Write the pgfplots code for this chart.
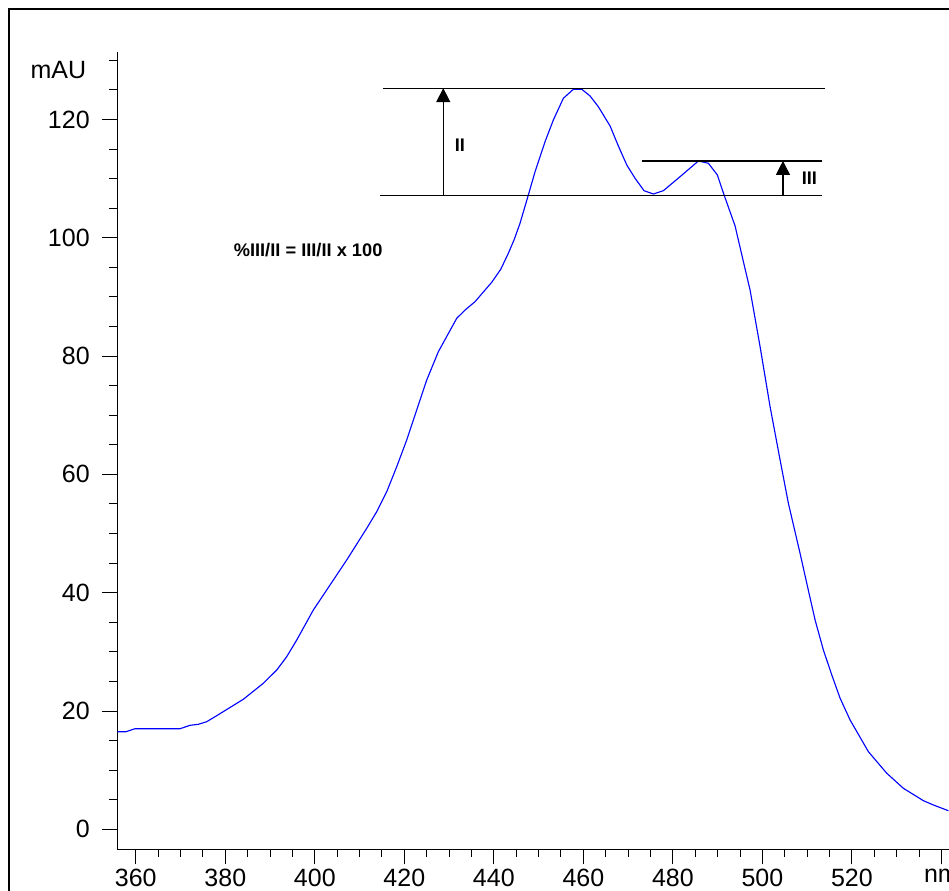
\documentclass[border=0pt]{standalone}
\usepackage{pgfplots}
\pgfplotsset{compat=1.18}
\usepackage{fontspec}
\setmainfont{Liberation Sans}
\usetikzlibrary{arrows.meta}
\begin{document}
\begin{tikzpicture}
\begin{axis}[
  at={(0pt,0pt)}, anchor=south west,
  scale only axis, width=332.8pt, height=318.9pt,
  xmin=355.8, xmax=541.7, ymin=-3.38, ymax=131.4,
  axis lines*=left,
  axis line style={line width=0.4pt, black},
  tick align=outside,
  major tick length=6pt, minor tick length=3pt,
  xtick={360,380,...,540},
  xticklabels={360,380,400,420,440,460,480,500,520,nm},
  minor xtick={360,365,...,540},
  ytick={0,20,...,120},
  minor ytick={0,5,...,130},
  tick style={black, line width=0.4pt},
  ticklabel style={font=\fontsize{10}{12}\selectfont},
  xticklabel style={yshift=1.8pt},
  yticklabel style={xshift=-1.4pt},
  /pgf/number format/assume math mode=true,
  clip=false,
]
\addplot[blue, line width=0.45pt] coordinates {
(355.87,16.50) (357.81,16.50) (359.82,17.01) (369.88,17.01) (372.11,17.58)
(373.97,17.75) (375.84,18.19) (378.08,19.21) (384.02,21.98) (388.49,24.68)
(391.49,26.93) (393.72,29.18) (395.96,32.00) (399.67,37.08) (403.40,41.30)
(407.13,45.53) (411.60,50.89) (413.83,53.69) (416.07,57.08) (418.30,61.30)
(420.54,65.82) (422.39,70.04) (423.51,72.58) (425.01,75.96) (427.60,80.74)
(431.71,86.39) (433.57,87.79) (435.80,89.20) (439.53,92.48) (441.54,94.67)
(443.24,97.38) (444.51,99.63) (445.85,102.45) (447.71,107.24) (449.21,111.17)
(451.44,116.25) (453.30,119.92) (455.53,123.58) (457.77,125.11) (459.64,125.11)
(461.50,123.97) (463.35,122.16) (465.97,118.90) (467.82,115.52) (469.70,112.31)
(471.55,110.06) (473.56,107.96) (475.64,107.40) (477.88,107.96) (481.61,110.33)
(485.70,112.98) (487.93,112.60) (489.94,110.62) (491.44,107.24) (493.90,102.00)
(495.76,95.96) (497.25,91.17) (499.49,81.59) (501.72,71.45) (503.96,62.43)
(505.81,55.11) (508.42,46.66) (509.92,41.59) (511.78,35.38) (513.63,30.31)
(515.51,26.09) (517.37,22.15) (519.60,18.48) (523.69,13.12) (527.80,9.47)
(531.51,6.93) (535.98,4.84) (538.22,4.11) (541.57,3.14)
};
\draw[line width=0.5pt] (axis cs:415.3,125.3) -- (axis cs:514.0,125.3);
\draw[line width=0.5pt] (axis cs:414.6,107.1) -- (axis cs:513.3,107.1);
\draw[line width=0.5pt] (axis cs:473.2,113.0) -- (axis cs:513.3,113.0);
\draw[line width=0.5pt,-{Triangle[width=5.6pt,length=5.6pt]}] (axis cs:428.7,107.1) -- (axis cs:428.7,125.3);
\draw[line width=0.5pt,-{Triangle[width=5.6pt,length=5.6pt]}] (axis cs:504.6,107.1) -- (axis cs:504.6,113.0);
\node[font=\bfseries\fontsize{7.3}{8}\selectfont] at (axis cs:432.4,115.7) {II};
\node[font=\bfseries\fontsize{7.3}{8}\selectfont] at (axis cs:510.5,110.06) {III};
\node[font=\bfseries\fontsize{7.3}{8}\selectfont] at (axis cs:398.5,97.9) {\%III/II = III/II x 100};
\node[font=\fontsize{10}{12}\selectfont] at (axis cs:342.7,128.4) {mAU};
\end{axis}
\draw[line width=0.5pt] (-43.2pt,-40pt) rectangle (380pt,336.1pt);
\pgfresetboundingbox
\useasboundingbox (-46.8pt,-16.28pt) rectangle (332.8pt,339.72pt);
\end{tikzpicture}
\end{document}
